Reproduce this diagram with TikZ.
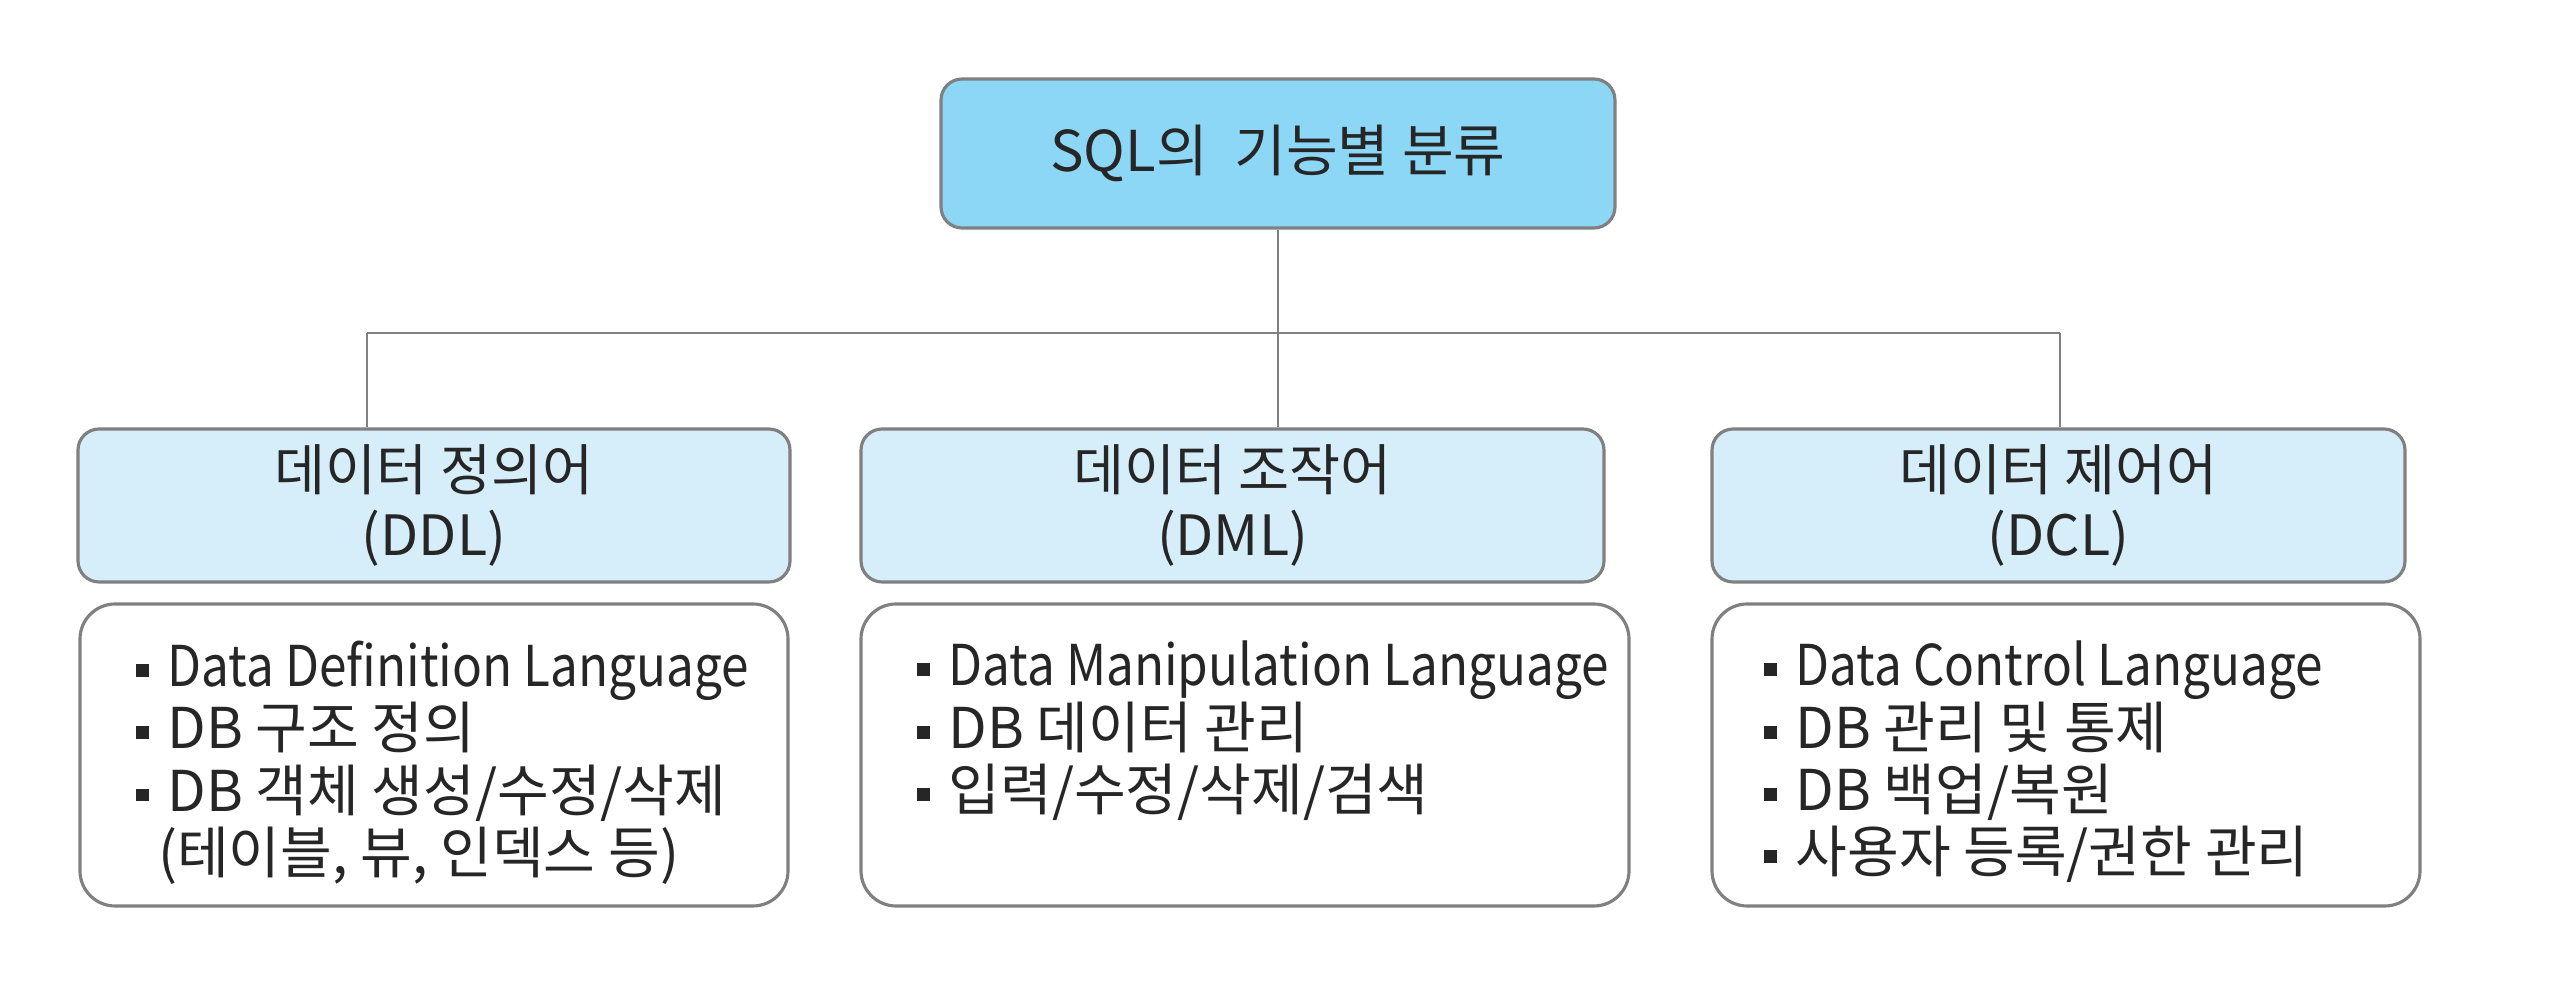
\documentclass[tikz,border=0pt]{standalone}
\usepackage{fontspec}
\setmainfont{Noto Sans CJK KR}
\newfontfamily\etroit[FakeStretch=0.88]{Noto Sans CJK KR}
\usepackage{xcolor}
\usepackage{tikz}
\usetikzlibrary{positioning}
\definecolor{bleu}{RGB}{141,215,246}
\definecolor{bleuclair}{RGB}{214,237,250}
\definecolor{trait}{RGB}{128,128,128}
\definecolor{encre}{RGB}{38,38,38}
\newcommand{\puce}{\rule[0.17em]{0.23em}{0.23em}\hspace{0.33em}}
\tikzset{
  bloc/.style={draw=trait,line width=0.9pt,rounded corners=6pt,align=center,
    text=encre,inner sep=0pt},
  racine/.style={bloc,fill=bleu,minimum width=6.74cm,minimum height=1.49cm,
    font=\fontsize{16}{19}\selectfont},
  cat/.style={bloc,fill=bleuclair,minimum height=1.53cm,
    font=\fontsize{15.8}{18.5}\selectfont},
  cadre/.style={bloc,rounded corners=10pt,fill=white,minimum height=3.02cm},
  puces/.style={align=left,inner sep=0pt,text=encre,
    font=\fontsize{16}{17.7}\selectfont},
  lien/.style={draw=trait,line width=0.8pt},
}

\begin{document}
\begin{tikzpicture}
  \useasboundingbox (0,0) rectangle (25.71,-10);
  \node[racine] (sql) at (12.78,-1.535) {SQL의\hspace{0.25em} 기능별 분류};
  \node[cat,minimum width=7.12cm] (ddl) at (4.34,-5.055) {데이터 정의어\\(DDL)};
  \node[cat,minimum width=7.43cm] (dml) at (12.325,-5.055) {데이터 조작어\\(DML)};
  \node[cat,minimum width=6.93cm] (dcl) at (20.585,-5.055) {데이터 제어어\\(DCL)};
  \node[cadre,minimum width=7.08cm] (ddlcadre) at (4.34,-7.55) {};
  \node[cadre,minimum width=7.68cm] (dmlcadre) at (12.45,-7.55) {};
  \node[cadre,minimum width=7.08cm] (dclcadre) at (20.66,-7.55) {};
  \node[puces,below right=0.38cm and 0.57cm of ddlcadre.north west] (ddltxt)
    {\puce {\etroit Data Definition Language}\\\puce DB 구조 정의\\
     \puce DB 객체 생성/수정/삭제\\\hspace*{0.22cm}(테이블, 뷰, 인덱스 등)};
  \node[puces,below right=0.38cm and 0.57cm of dmlcadre.north west] (dmltxt)
    {\puce {\etroit Data Manipulation Language}\\\puce DB 데이터 관리\\
     \puce 입력/수정/삭제/검색};
  \node[puces,below right=0.38cm and 0.53cm of dclcadre.north west] (dcltxt)
    {\puce {\etroit Data Control Language}\\\puce DB 관리 및 통제\\\puce DB 백업/복원\\
     \puce 사용자 등록/권한 관리};
  % liaisons
  \coordinate (bg) at (3.67,-3.33);
  \coordinate (bd) at (20.6,-3.33);
  \draw[lien] (bg) -- (bd);
  \draw[lien] (sql) -- (sql |- dml.north);
  \draw[lien] (bg) -- (bg |- ddl.north);
  \draw[lien] (bd) -- (bd |- dcl.north);
\end{tikzpicture}
\end{document}
